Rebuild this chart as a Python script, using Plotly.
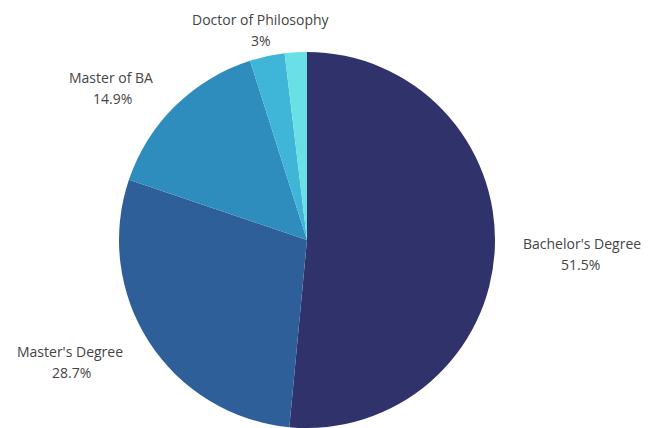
import math
import plotly.graph_objects as go

labels = ["Bachelor's Degree", "Master's Degree", "Master of BA", "Doctor of Philosophy", "Other"]
values = [51.5, 28.7, 14.9, 3.0, 1.9]
shown = ["51.5%", "28.7%", "14.9%", "3%", ""]
colors = ["#30336b", "#2e5f98", "#2e8dbd", "#3fb5d7", "#68e0e6"]

W, H = 649, 428
cx, cy, r = 299, 232, 188      # pie geometry in pixels
gap = 30                        # label distance from pie edge
char_w = 6.95                   # approx char width, to centre the % line
edge = 17                       # keep labels this far from the right edge

fig = go.Figure(go.Pie(
    labels=labels,
    values=values,
    textinfo="none",
    sort=False,
    direction="clockwise",
    rotation=0,
    marker=dict(colors=colors, line=dict(width=0)),
    domain=dict(x=[(cx - r) / W, (cx + r) / W], y=[(H - cy - r) / H, (H - cy + r) / H]),
    hoverinfo="label+percent",
))

font = dict(family="Open Sans", size=14, color="#444444")
total = sum(values)
cum = 0.0
for lab, val, txt in zip(labels, values, shown):
    mid = (cum + val / 2) / total * 2 * math.pi
    cum += val
    if not txt:
        continue
    px = cx + (r + gap) * math.sin(mid)
    py = cy - (r + gap) * math.cos(mid)
    s = math.sin(mid)
    est = len(lab) * char_w
    half = est / 2
    if s > 0.5:
        px = min(px, W - edge - est)
        xanchor, ccx = "left", px + half
    elif s < -0.5:
        xanchor, ccx = "right", px - half
    else:
        xanchor, ccx = "center", px
    fig.add_annotation(
        x=px / W, y=1 - (py - 7) / H, xref="paper", yref="paper",
        text=lab, showarrow=False, xanchor=xanchor, yanchor="middle",
        font=font, borderpad=0,
    )
    fig.add_annotation(
        x=ccx / W, y=1 - (py + 14) / H, xref="paper", yref="paper",
        text=txt, showarrow=False, xanchor="center", yanchor="middle",
        font=font, borderpad=0,
    )

fig.update_layout(
    width=W, height=H,
    margin=dict(l=0, r=0, t=0, b=0),
    showlegend=False,
    paper_bgcolor="white",
    font=dict(family="Open Sans"),
)

fig.write_html("out.html")
